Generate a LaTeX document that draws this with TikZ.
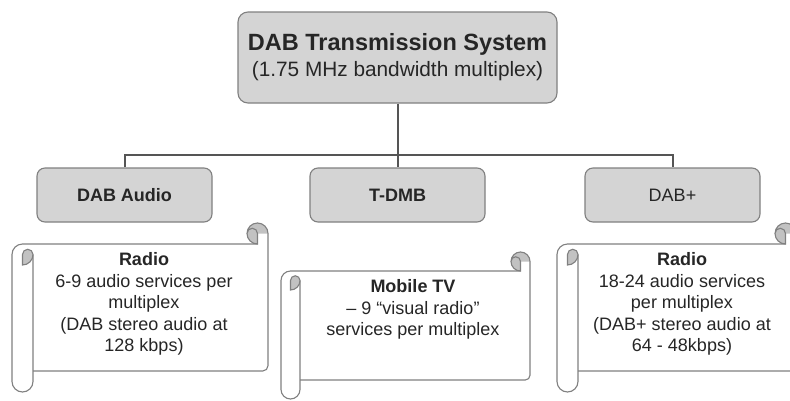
\documentclass[tikz,border=0pt]{standalone}
\usepackage{fontspec}
\setmainfont{Liberation Sans}

\definecolor{boxfill}{HTML}{D4D4D4}
\definecolor{boxline}{HTML}{808080}
\definecolor{connline}{HTML}{555555}
\definecolor{curlfill}{HTML}{C2C2C2}
\definecolor{inkc}{HTML}{262626}

\tikzset{
  levelbox/.style={draw=boxline, fill=boxfill, rounded corners=8pt, line width=1.1pt,
    minimum width=175pt, minimum height=54pt, text=inkc, inner sep=0pt,
    font=\fontsize{18}{20}\selectfont},
  topbox/.style={levelbox, rounded corners=10pt, minimum width=319pt, minimum height=91pt,
    align=center, font=\fontsize{23.5}{26}\selectfont},
  conn/.style={draw=connline, line width=2pt},
  scrollline/.style={draw=boxline, line width=1.1pt},
  scrolltext/.style={align=center, text=inkc, inner sep=0pt, font=\fontsize{18}{21.5}\selectfont}
}

% horizontal scroll: left, top, right, bottom, roll diameter
\newcommand\drawscroll[5]{%
  \pgfmathsetmacro\scrH{#5/2}%
  \pgfmathsetmacro\scrQ{#5/4}%
  % rolled-up end at top right
  \fill[curlfill] ({#3-\scrH},{#2+\scrH}) circle[radius=\scrH];
  % paper body and left tube
  \fill[white] (#1,{#2+#5+\scrH}) arc[start angle=180,end angle=270,radius=\scrH]
    -- ({#3-\scrH},{#2+#5}) -- ({#3-\scrH},{#2+\scrH}) -- (#3,{#2+\scrH})
    -- (#3,{#4-#5}) -- ({#1+#5},{#4-#5}) -- ({#1+#5},{#4-\scrH})
    arc[start angle=0,end angle=180,radius=\scrH] -- cycle;
  % bottom edge, right edge and top-right curl
  \draw[scrollline] ({#1+#5},{#4-#5}) -- ({#3-\scrQ},{#4-#5})
    arc[start angle=90,end angle=0,radius=\scrQ] -- (#3,{#2+\scrH})
    arc[start angle=0,end angle=-270,radius=\scrH] -- ({#3-\scrH},{#2+\scrH})
    arc[start angle=0,end angle=-180,radius=\scrQ];
  % left tube and top edge
  \draw[scrollline] ({#1+#5},{#2+#5+\scrH}) -- ({#1+#5},{#4-\scrH})
    arc[start angle=0,end angle=180,radius=\scrH] -- (#1,{#2+#5+\scrH})
    arc[start angle=180,end angle=270,radius=\scrH] -- ({#3-\scrH},{#2+#5});
  % curl at the top of the left tube
  \filldraw[scrollline, fill=curlfill] ({#1+\scrH},{#2+2*#5}) -- ({#1+\scrH},{#2+#5+\scrH})
    arc[start angle=180,end angle=360,radius=\scrQ]
    arc[start angle=0,end angle=90,radius=\scrH] -- cycle;
}

\begin{document}
\begin{tikzpicture}[x=1pt,y=-1pt]
  \useasboundingbox (0,0) rectangle (790,400);
  \fill[white] (0,0) rectangle (790,400);
  \clip (0,0) rectangle (790,400);

  % hierarchy boxes
  \node[topbox] (top) at (397.5,57.5)
    {\textbf{DAB Transmission System}\\{\fontsize{20.8}{26}\selectfont(1.75 MHz bandwidth multiplex)}};
  \node[levelbox] (audio) at (124.5,195) {\textbf{DAB Audio}};
  \node[levelbox] (tdmb)  at (397.5,195) {\textbf{T-DMB}};
  \node[levelbox] (dabp)  at (672.5,195) {DAB+};

  % tree connectors
  \coordinate (bar) at (397.5,155);
  \draw[conn] (top.south) -- (tdmb.north);
  \draw[conn] (audio.north) -- (audio.north |- bar) -- (dabp.north |- bar) -- (dabp.north);

  % scrolls with service descriptions
  \drawscroll{12}{223}{268}{392}{21}
  \drawscroll{281}{252}{530}{399}{19}
  \drawscroll{557}{223}{796}{392}{21}

  \node[scrolltext] (radioA) at (144,304)
    {\textbf{Radio}\\6-9 audio services per\\multiplex\\(DAB stereo audio at\\128 kbps)};
  \node[scrolltext] (mobtv) at (413,309.5)
    {\textbf{Mobile TV}\\– 9 “visual radio”\\services per multiplex};
  \node[scrolltext] (radioB) at (682,304)
    {\textbf{Radio}\\18-24 audio services\\per multiplex\\(DAB+ stereo audio at\\64 - 48kbps)};
\end{tikzpicture}
\end{document}
